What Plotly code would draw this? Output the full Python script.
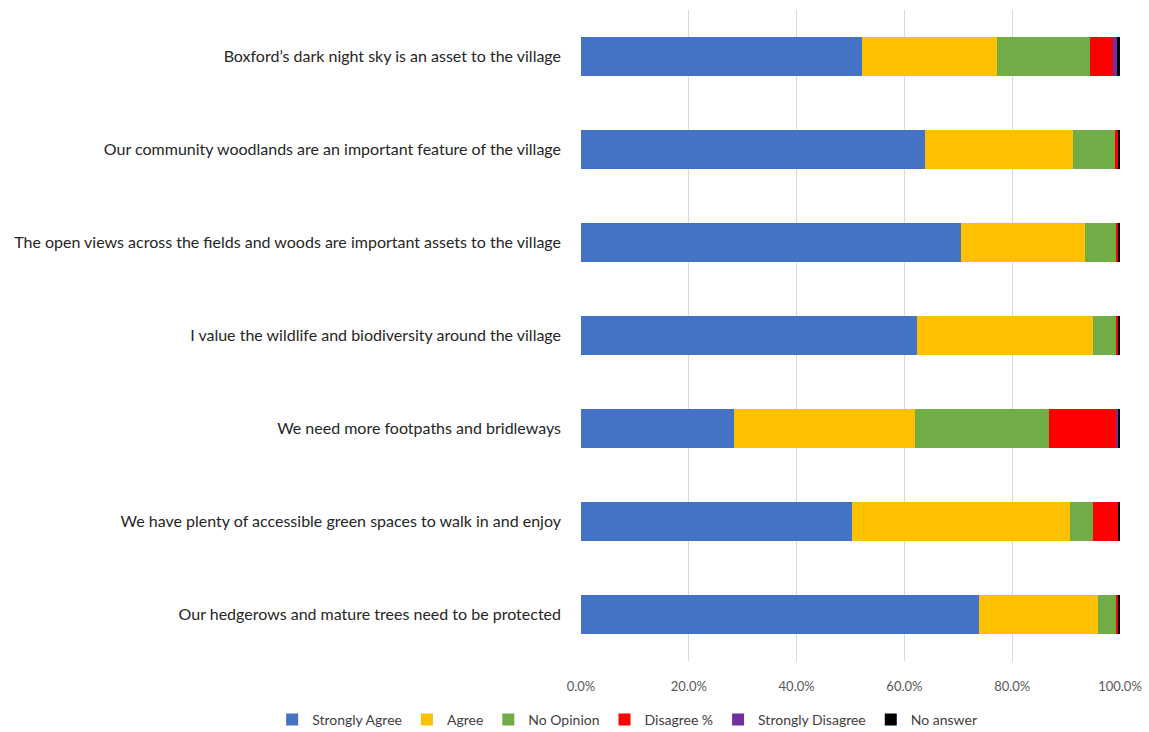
import plotly.graph_objects as go

categories = [
    "Boxford\u2019s dark night sky is an asset to the village",
    "Our community woodlands are an important feature of the village",
    "The open views across the fields and woods are important assets to the village",
    "I value the wildlife and biodiversity around the village",
    "We need more footpaths and bridleways",
    "We have plenty of accessible green spaces to walk in and enjoy",
    "Our hedgerows and mature trees need to be protected",
]

strongly_agree = [52.1, 63.8, 70.5, 62.3, 28.4, 50.2, 73.9]
agree = [25.1, 27.4, 23.0, 32.6, 33.6, 40.5, 22.1]
no_opinion = [17.2, 7.9, 5.7, 4.3, 24.9, 4.2, 3.2]
disagree = [4.3, 0.6, 0.5, 0.5, 12.5, 4.8, 0.5]
strongly_disagree = [0.8, 0.0, 0.0, 0.0, 0.3, 0.0, 0.0]
no_answer = [0.5, 0.3, 0.3, 0.3, 0.3, 0.3, 0.3]

series_names = ["Strongly Agree", "Agree", "No Opinion", "Disagree %", "Strongly Disagree", "No answer"]
series_values = [strongly_agree, agree, no_opinion, disagree, strongly_disagree, no_answer]
series_colors = ["#4472C4", "#FFC000", "#70AD47", "#FF0000", "#7030A0", "#000000"]

tick_vals = [0, 20, 40, 60, 80, 100]
tick_text = ["0.0%", "20.0%", "40.0%", "60.0%", "80.0%", "100.0%"]

fig = go.Figure()
for name, vals, col in zip(series_names, series_values, series_colors):
    fig.add_trace(go.Bar(
        y=categories, x=vals, name=name, orientation="h",
        marker=dict(color=col, line=dict(width=0)),
    ))

fig.update_layout(
    barmode="stack",
    bargap=0.59,
    width=1149, height=732,
    margin=dict(l=581, r=29, t=10, b=71, autoexpand=False),
    paper_bgcolor="white", plot_bgcolor="white",
    font=dict(family="Lato, Liberation Sans, Arial", size=15, color="#262626"),
    xaxis=dict(
        range=[0, 100], tickvals=tick_vals, ticktext=tick_text,
        showgrid=True, gridcolor="#D9D9D9", gridwidth=1,
        zeroline=False, showline=False, automargin=False,
        tickfont=dict(size=13, color="#595959"),
        ticks="", ticklabelstandoff=16,
    ),
    yaxis=dict(
        autorange="reversed", showgrid=False, showline=False, zeroline=False,
        automargin=False,
        tickfont=dict(size=16, color="#262626"), ticks="", ticklabelstandoff=19,
    ),
    legend=dict(
        orientation="h",
        x=-0.573, xanchor="left", y=-0.0906, yanchor="middle",
        font=dict(size=14, color="#404040"), traceorder="normal",
        itemwidth=30,
    ),
)

fig.write_html("out.html", post_script="document.body.style.margin='0';",
               config={"displayModeBar": False})
